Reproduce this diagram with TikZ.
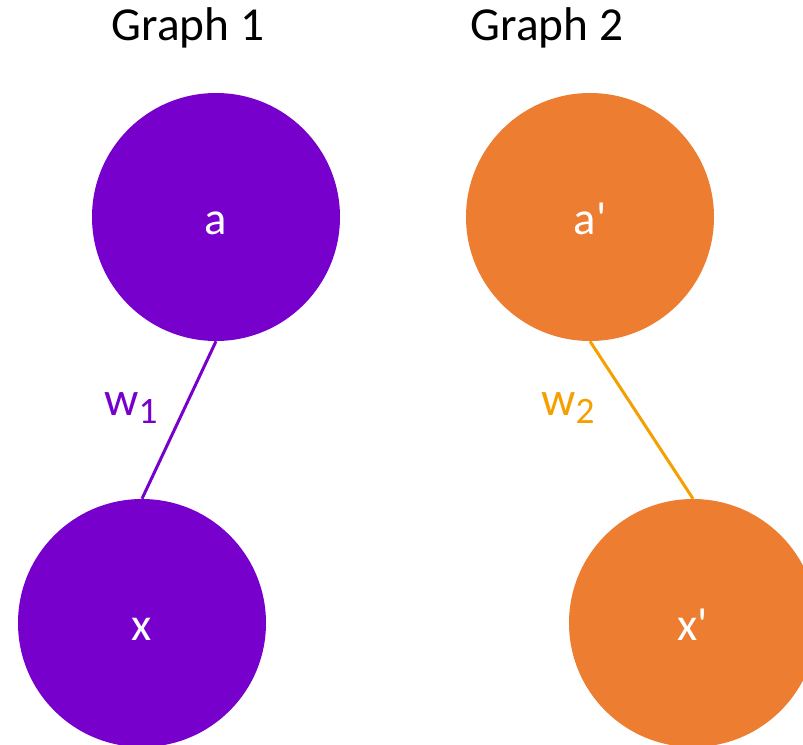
\documentclass[tikz,border=0pt]{standalone}
\usepackage{fontspec}
\setmainfont{Carlito}[Ligatures=TeXOff]
\definecolor{gpurple}{RGB}{119,0,204}
\definecolor{gorange}{RGB}{237,125,49}
\definecolor{gyellow}{RGB}{245,160,0}
\newcommand{\wsub}[1]{\raisebox{-6pt}{\fontsize{28}{32}\selectfont #1}}
\tikzset{
  vertex/.style={circle, minimum size=186pt, inner sep=0pt, text=white, text height=26pt, text depth=0pt, font=\fontsize{35}{40}\selectfont},
  title/.style={font=\fontsize{35.5}{40}\selectfont},
  weight/.style={font=\fontsize{36}{40}\selectfont}
}
\begin{document}
\begin{tikzpicture}[x=0.75pt, y=-0.75pt]
        \useasboundingbox (0,0) rectangle (803,744);

        % titles
        \node[title] (t1) at (188,28) {Graph 1};
        \node[title] (t2) at (547,28) {Graph 2};

        % graph 1
        \node[vertex, fill=gpurple] (a) at (216,217) {a};
        \node[vertex, fill=gpurple] (x) at (142,623) {x};
        \draw[gpurple, line width=2.25pt] (a.south) -- (x.north);
        \node[weight, text=gpurple] (w1) at (131,408) {w\wsub{1}};

        % graph 2
        \node[vertex, fill=gorange] (a2) at (590,217) {a'};
        \node[vertex, fill=gorange] (x2) at (693,623) {x'};
        \draw[gyellow, line width=2.25pt] (a2.south) -- (x2.north);
        \node[weight, text=gyellow] (w2) at (568,408) {w\wsub{2}};
      \end{tikzpicture}
\end{document}
